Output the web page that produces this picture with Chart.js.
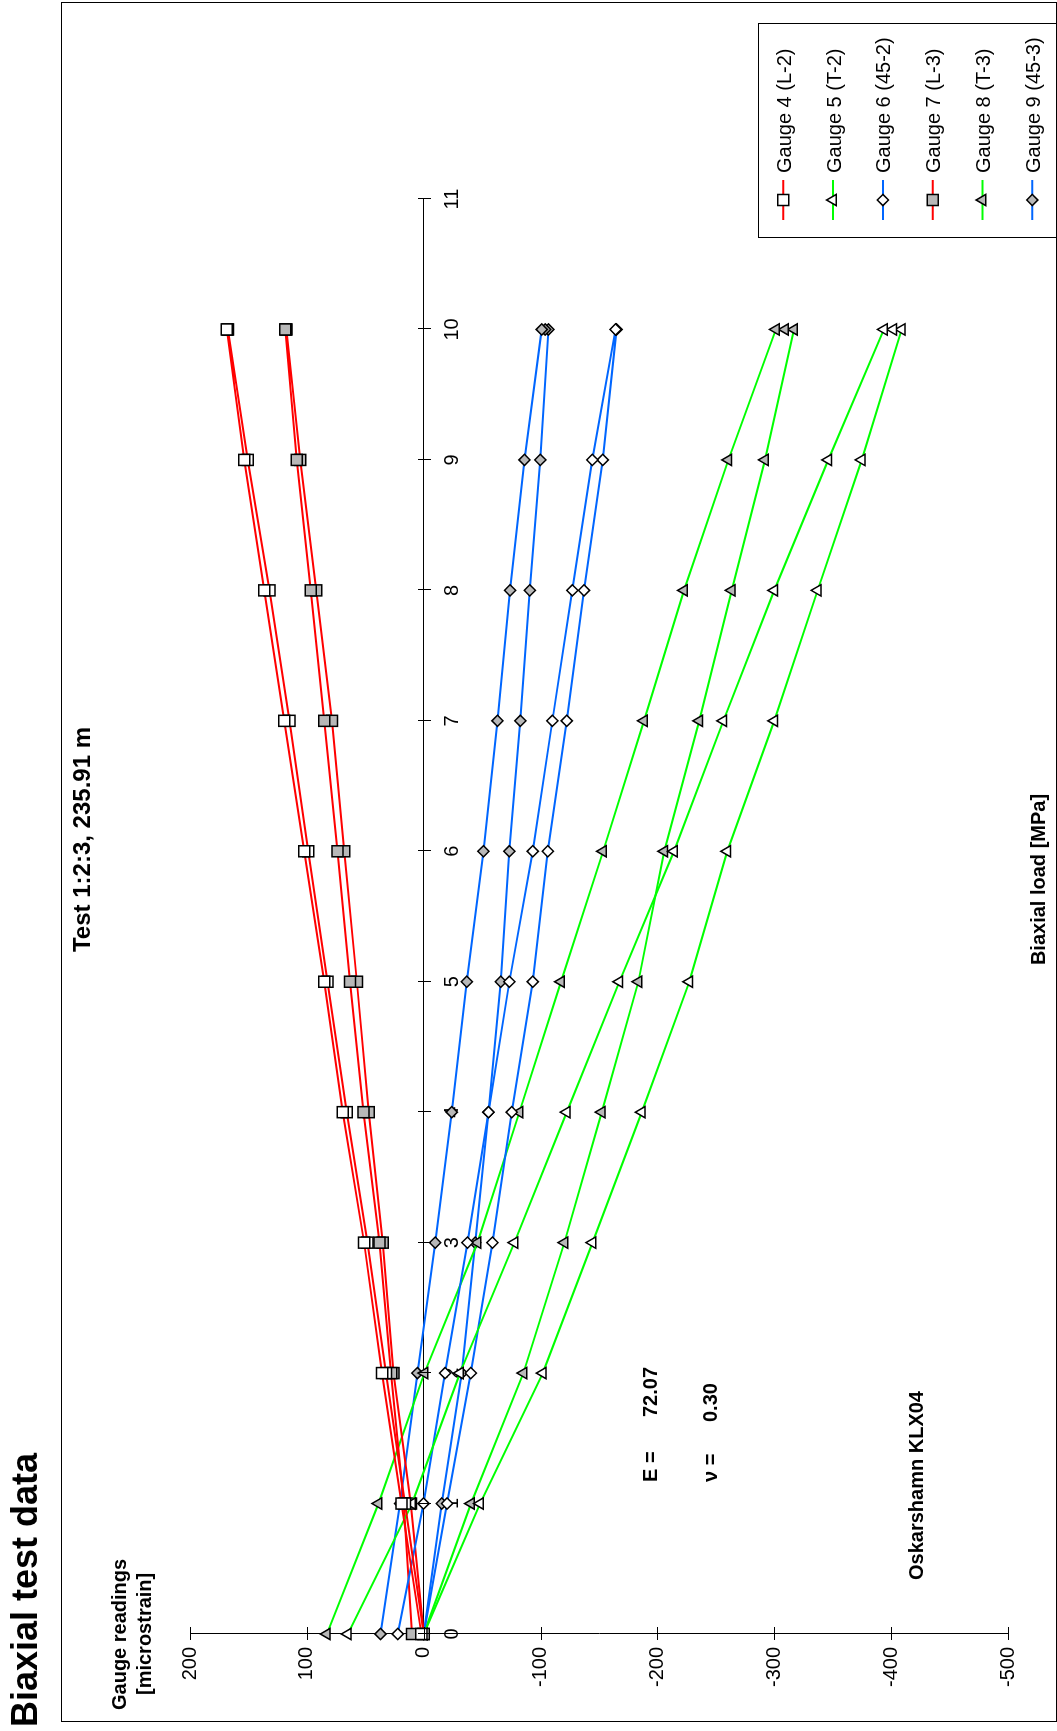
<!DOCTYPE html>
<html>
<head>
<meta charset="utf-8">
<script src="https://cdn.jsdelivr.net/npm/chart.js"></script>
<style>
html, body { margin: 0; padding: 0; background: #fff; }
body { width: 1057px; height: 1731px; overflow: hidden; position: relative; }
#wrap { position: absolute; left: 0; top: 0; width: 1731px; height: 1057px;
        transform-origin: 0 0; transform: translate(0px, 1731px) rotate(-90deg); }
canvas { display: block; }
</style>
</head>
<body>
<div id="wrap"><canvas id="chart" width="1731" height="1057"></canvas></div>
<script>
// ---- data (biaxial load steps: loading 0..10, hold at 10, unloading 10..0) ----
const loadSteps = [0,1,2,3,4,5,6,7,8,9,10,10,10,9,8,7,6,5,4,3,2,1,0];
const gaugeNames = ["Gauge 4 (L-2)", "Gauge 5 (T-2)", "Gauge 6 (45-2)", "Gauge 7 (L-3)", "Gauge 8 (T-3)", "Gauge 9 (45-3)"];
const gauge4 = [0,16,32.2,48.2,65.8,82.4,98.9,114.9,132,150.5,167.5,168,168.5,153.6,136.5,119.4,102.3,85.2,69.2,51,35.6,19,2];
const gauge5 = [0,-48.2,-101.9,-144.4,-186.6,-227.3,-259.8,-300,-337.1,-374.8,-409,-401.8,-393.8,-346.2,-300,-256.4,-214.2,-167.4,-122.4,-77.6,-31,10,64.9];
const gauge6 = [0,-20,-40.3,-58.8,-75.3,-93.3,-106.2,-122.4,-137.2,-153.2,-165,-164.6,-164.2,-144.3,-127.2,-110.1,-93.3,-73.3,-55.4,-37.4,-18.3,0.2,22.2];
const gauge7 = [0,11,25.9,35,47,57.2,68.1,78.4,92,105.7,117.5,118,118.5,108.6,96.6,85.2,73.8,63,51.6,37.9,27.9,17,10];
const gauge8 = [0,-40.5,-85.3,-120.4,-152.3,-183.7,-205.9,-235.8,-263.6,-292,-316.9,-309.2,-301.4,-260.7,-222.8,-188.5,-153.5,-117.5,-81.9,-46,-0.6,38.7,82.9];
const gauge9 = [0,-15.5,-32.6,-44,-55.4,-66,-73.3,-82.7,-90.8,-99.8,-106.7,-103.9,-101,-86.2,-73.9,-63.1,-51.1,-36.9,-24,-9.8,5.4,20.2,37];
const xTickValues = [0,1,2,3,4,5,6,7,8,9,10,11];
const yTickValues = [200,100,0,-100,-200,-300,-400,-500];

// ---- styles ----
const RED = '#ff0000', GREEN = '#00ff00', BLUE = '#0066ff', GREY = '#b8b8b8', WHITE = '#ffffff';
const FONT = '"Liberation Sans", Arial, Helvetica, sans-serif';
const seriesStyle = [
  { color: RED,   style: 'rect',     fill: WHITE, r: 7.8 },
  { color: GREEN, style: 'triangle', fill: WHITE, r: 6.5 },
  { color: BLUE,  style: 'rectRot',  fill: WHITE, r: 5.6 },
  { color: RED,   style: 'rect',     fill: GREY,  r: 7.8 },
  { color: GREEN, style: 'triangle', fill: GREY,  r: 6.5 },
  { color: BLUE,  style: 'rectRot',  fill: GREY,  r: 5.6 }
];
const seriesValues = [gauge4, gauge5, gauge6, gauge7, gauge8, gauge9];

const datasets = seriesValues.map((vals, i) => ({
  label: gaugeNames[i],
  data: vals.map((v, k) => ({ x: loadSteps[k], y: v })),
  borderColor: seriesStyle[i].color,
  borderWidth: 2,
  tension: 0,
  fill: false,
  clip: false,
  pointStyle: seriesStyle[i].style,
  pointRadius: seriesStyle[i].r,
  pointBackgroundColor: seriesStyle[i].fill,
  pointBorderColor: '#000',
  pointBorderWidth: 1.5
}));

function marker(ctx, style, x, y, r) {
  ctx.beginPath();
  if (style === 'rect') {
    const s = r * Math.SQRT1_2;
    ctx.rect(x - s, y - s, 2 * s, 2 * s);
  } else if (style === 'rectRot') {
    ctx.moveTo(x - r, y); ctx.lineTo(x, y - r); ctx.lineTo(x + r, y); ctx.lineTo(x, y + r); ctx.closePath();
  } else {
    let a = 0;
    ctx.moveTo(x + Math.sin(a) * r, y - Math.cos(a) * r);
    for (let k = 1; k < 3; k++) { a += 2 * Math.PI / 3; ctx.lineTo(x + Math.sin(a) * r, y - Math.cos(a) * r); }
    ctx.closePath();
  }
  ctx.fill(); ctx.stroke();
}

const decor = {
  id: 'decor',
  afterDraw(chart) {
    const ctx = chart.ctx;
    const xs = chart.scales.x, ys = chart.scales.y;
    ctx.save();
    // outer frame
    ctx.strokeStyle = '#000'; ctx.lineWidth = 1;
    ctx.strokeRect(9.5, 61.5, 1719, 995);
    // crossing tick marks
    const y0 = Math.round(ys.getPixelForValue(0)) + 0.5;
    const x0 = Math.round(xs.getPixelForValue(0)) + 0.5;
    ctx.beginPath();
    xs.ticks.forEach(t => { const p = Math.round(xs.getPixelForValue(t.value)) + 0.5; ctx.moveTo(p, y0 - 6.5); ctx.lineTo(p, y0 + 6.5); });
    ys.ticks.forEach(t => { const p = Math.round(ys.getPixelForValue(t.value)) + 0.5; ctx.moveTo(x0 - 6.5, p); ctx.lineTo(x0 + 6.5, p); });
    ctx.stroke();
    // texts
    ctx.fillStyle = '#000';
    ctx.textBaseline = 'alphabetic';
    ctx.textAlign = 'left';
    ctx.font = 'bold 36px ' + FONT;
    ctx.fillText('Biaxial test data', 4, 37);
    ctx.font = 'bold 20px ' + FONT;
    ctx.fillText('Gauge readings', 21, 125.5);
    ctx.fillText('[microstrain]', 36, 151);
    ctx.fillText('E =', 249, 657);
    ctx.fillText('72.07', 314, 657);
    ctx.fillText('\u03BD =', 249, 716.5);
    ctx.fillText('0.30', 309, 716.5);
    ctx.fillText('Oskarshamn KLX04', 151, 922.5);
    ctx.textAlign = 'center';
    ctx.fillText('Biaxial load [MPa]', 851.5, 1045);
    ctx.font = 'bold 24px ' + FONT;
    ctx.fillText('Test 1:2:3, 235.91 m', 891.5, 90);
    // legend
    ctx.strokeStyle = '#000'; ctx.lineWidth = 1;
    ctx.strokeRect(1493.5, 758.5, 214, 298);
    ctx.textAlign = 'left';
    ctx.font = '20px ' + FONT;
    chart.data.datasets.forEach((ds, i) => {
      const v = 783.3 + 49.8 * i;
      ctx.strokeStyle = ds.borderColor; ctx.lineWidth = 2;
      ctx.beginPath(); ctx.moveTo(1511, v); ctx.lineTo(1551, v); ctx.stroke();
      ctx.strokeStyle = '#000'; ctx.lineWidth = 1.5; ctx.fillStyle = ds.pointBackgroundColor;
      marker(ctx, ds.pointStyle, 1531, v, ds.pointRadius);
      ctx.fillStyle = '#000';
      ctx.fillText(ds.label, 1558, v + 7.5);
    });
    ctx.restore();
  }
};

Chart.defaults.font.family = FONT;
Chart.defaults.font.size = 20;
Chart.defaults.color = '#000';

new Chart(document.getElementById('chart'), {
  type: 'line',
  data: { datasets },
  options: {
    responsive: false,
    animation: false,
    devicePixelRatio: 1,
    layout: { padding: { left: 10, top: 190, right: 199, bottom: 49 } },
    plugins: { legend: { display: false }, tooltip: { enabled: false } },
    scales: {
      x: {
        type: 'linear',
        position: { y: 0 },
        min: 0, max: 11,
        afterBuildTicks: s => { s.ticks = xTickValues.map(v => ({ value: v })); },
        grid: { display: false, drawTicks: false },
        border: { display: true, color: '#000', width: 1 },
        ticks: { autoSkip: false, maxRotation: 0, padding: 17, font: { size: 20 }, color: '#000' }
      },
      y: {
        type: 'linear',
        position: 'left',
        min: -500, max: 200,
        afterBuildTicks: s => { s.ticks = yTickValues.map(v => ({ value: v })); },
        afterFit: s => { s.width = 87; },
        grid: { display: false, drawTicks: false },
        border: { display: true, color: '#000', width: 1 },
        ticks: { padding: 13, font: { size: 20 }, color: '#000' }
      }
    }
  },
  plugins: [decor]
});
</script>
</body>
</html>
